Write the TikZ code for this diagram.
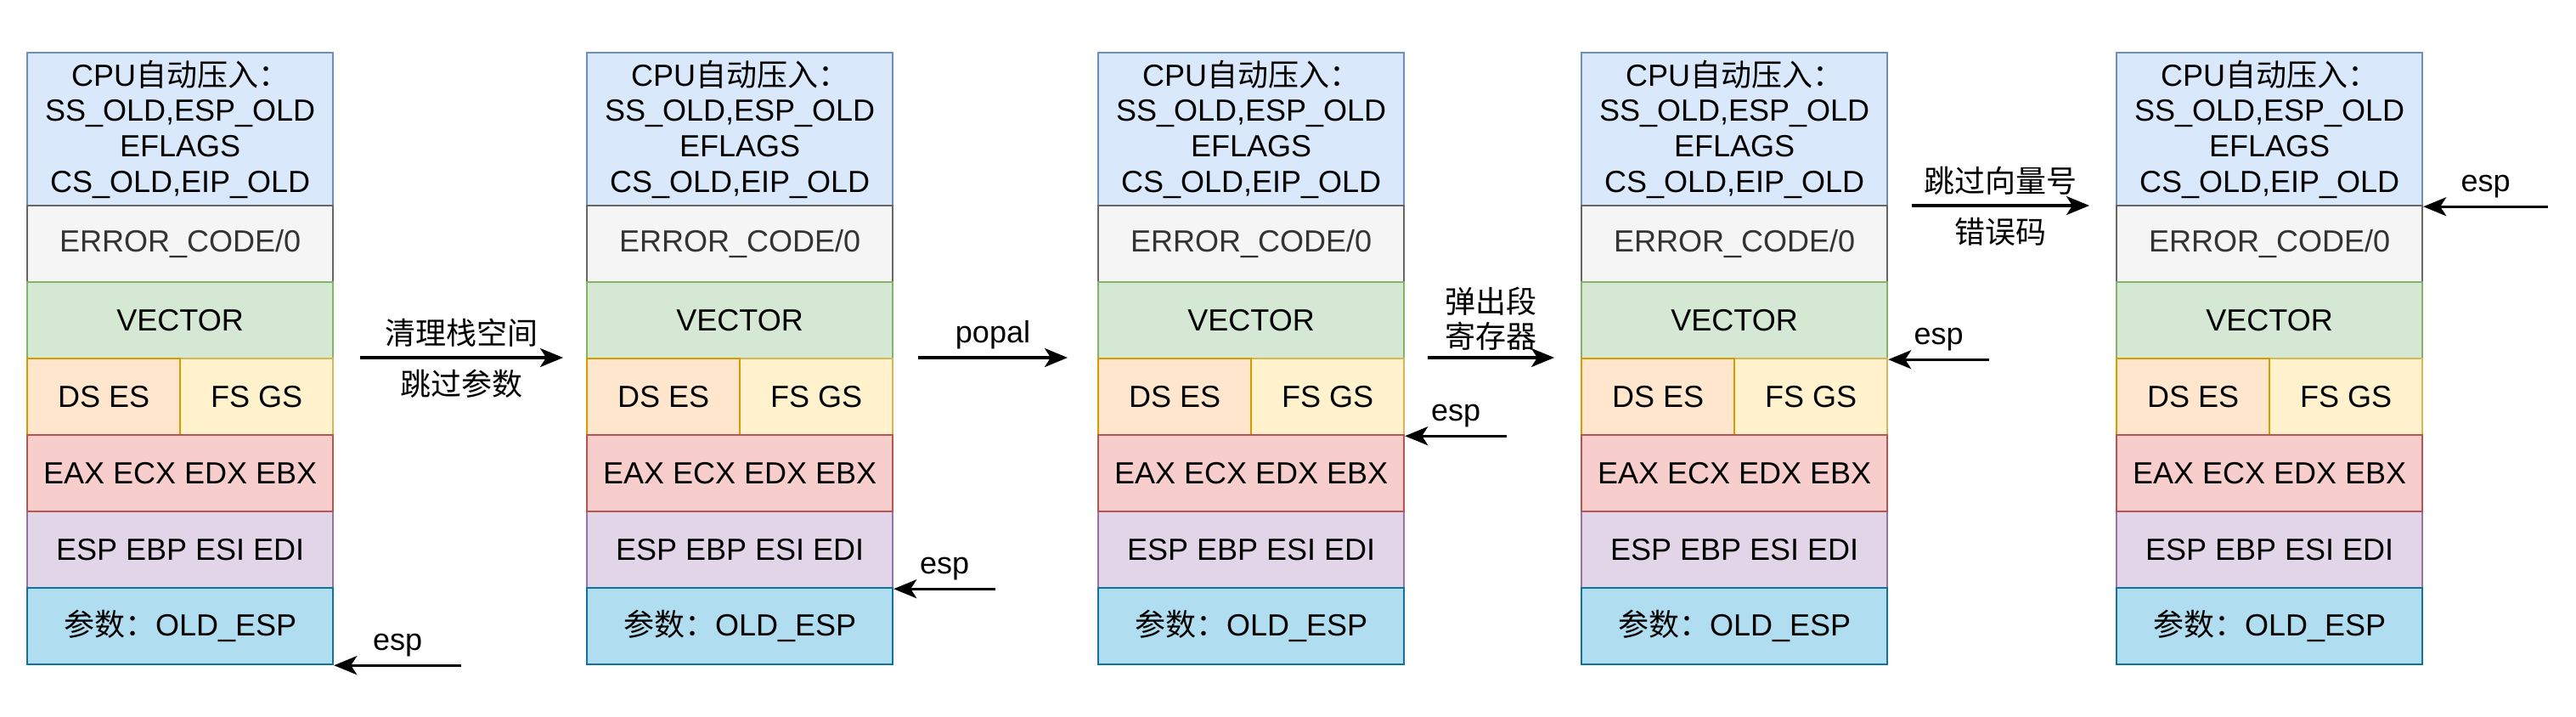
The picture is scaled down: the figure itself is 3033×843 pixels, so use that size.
\documentclass[tikz,border=0pt]{standalone}
\usepackage{fontspec}
\setmainfont{Liberation Sans}
\newfontfamily\cjk{Noto Sans CJK SC}
\usetikzlibrary{arrows.meta,calc}

\definecolor{cpuF}{HTML}{DAE8FC}\definecolor{cpuD}{HTML}{6C8EBF}
\definecolor{errF}{HTML}{F5F5F5}\definecolor{errD}{HTML}{666666}
\definecolor{vecF}{HTML}{D5E8D4}\definecolor{vecD}{HTML}{82B366}
\definecolor{dsF}{HTML}{FFE6CC}\definecolor{dsD}{HTML}{D79B00}
\definecolor{fsF}{HTML}{FFF2CC}\definecolor{fsD}{HTML}{D6B656}
\definecolor{genF}{HTML}{F8CECC}\definecolor{genD}{HTML}{B85450}
\definecolor{idxF}{HTML}{E1D5E7}\definecolor{idxD}{HTML}{9673A6}
\definecolor{argF}{HTML}{B1DDF0}\definecolor{argD}{HTML}{10739E}
\definecolor{errT}{HTML}{333333}

\tikzset{
  cell/.style={draw, line width=1.1pt, anchor=north west, inner sep=0pt,
    minimum width=180pt, minimum height=45pt, align=center,
    font=\fontsize{18}{20.8}\selectfont},
  half/.style={cell, minimum width=90pt},
  flow/.style={-{Stealth[length=13.5pt,width=11pt,inset=3.5pt]}, line width=1.7pt},
  lab/.style={anchor=base, inner sep=0pt, font=\fontsize{18}{20.8}\selectfont},
}

% one stack: #1 name, #2 left edge
\newcommand{\stackcol}[2]{%
  \node[cell, fill=cpuF, draw=cpuD, minimum height=90pt] (#1cpu) at (#2,61)
    {CPU{\cjk 自动压入：}\\SS\_OLD,ESP\_OLD\\EFLAGS\\CS\_OLD,EIP\_OLD};
  \node[cell, fill=errF, draw=errD, text=errT] (#1err) at (#2,241) {ERROR\_CODE/0};
  \node[cell, fill=vecF, draw=vecD] (#1vec) at (#2,331) {VECTOR};
  \node[half, fill=fsF, draw=fsD] (#1fs) at (#2+180,421) {FS GS};
  \node[half, fill=dsF, draw=dsD] (#1ds) at (#2,421) {DS ES};
  \node[cell, fill=idxF, draw=idxD] (#1idx) at (#2,601) {ESP EBP ESI EDI};
  \node[cell, fill=genF, draw=genD] (#1gen) at (#2,511) {EAX ECX EDX EBX};
  \node[cell, fill=argF, draw=argD] (#1arg) at (#2,691) {{\cjk 参数：}OLD\_ESP};
}

\begin{document}
\begin{tikzpicture}[x=0.5pt, y=-0.5pt]
  \useasboundingbox (0,0) rectangle (3033,843);
  % the five stacks
  \stackcol{a}{31}
  \stackcol{b}{690}
  \stackcol{c}{1292}
  \stackcol{d}{1861}
  \stackcol{e}{2491}

  % esp pointers
  \coordinate (espa) at ($(aarg.south east)+(150,0)$);
  \coordinate (espb) at ($(bidx.south east)+(120,0)$);
  \coordinate (espc) at ($(cfs.south east)+(120,0)$);
  \coordinate (espd) at ($(dvec.south east)+(119,0)$);
  \coordinate (espe) at ($(ecpu.south east)+(147,0)$);
  \draw[flow] (espa) -- (aarg.south east);
  \draw[flow] (espb) -- (bidx.south east);
  \draw[flow] (espc) -- (cfs.south east);
  \draw[flow] (espd) -- (dvec.south east);
  \draw[flow] (espe) -- (ecpu.south east);
  \foreach \c/\t in {a/aarg, b/bidx, c/cfs, d/dvec, e/ecpu}
    \node[lab] (esplab\c) at ($(esp\c)!0.5!(\t.south east)+(0,-18)$) {esp};

  % steps between stacks
  \coordinate (s1a) at (424,421);  \coordinate (s1b) at (663,421);
  \coordinate (s2a) at (1081,421); \coordinate (s2b) at (1257,421);
  \coordinate (s3a) at (1681,421); \coordinate (s3b) at (1830,421);
  \coordinate (s4a) at (2251,242); \coordinate (s4b) at (2460,242);
  \foreach \n in {1,...,4}
    \draw[flow] (s\n a) -- (s\n b);
  \node[lab] (s1up) at ($(s1a)!0.5!(s1b)+(0,-16)$) {\cjk 清理栈空间};
  \node[lab] (s1dn) at ($(s1a)!0.5!(s1b)+(0,44)$) {\cjk 跳过参数};
  \node[lab] (s2up) at ($(s2a)!0.5!(s2b)+(0,-18)$) {popal};
  \node[lab, anchor=south, align=center] (s3up) at ($(s3a)!0.5!(s3b)+(0,-8)$)
    {\cjk 弹出段\\\cjk 寄存器};
  \node[lab] (s4up) at ($(s4a)!0.5!(s4b)+(0,-16)$) {\cjk 跳过向量号};
  \node[lab] (s4dn) at ($(s4a)!0.5!(s4b)+(0,44)$) {\cjk 错误码};
\end{tikzpicture}
\end{document}
